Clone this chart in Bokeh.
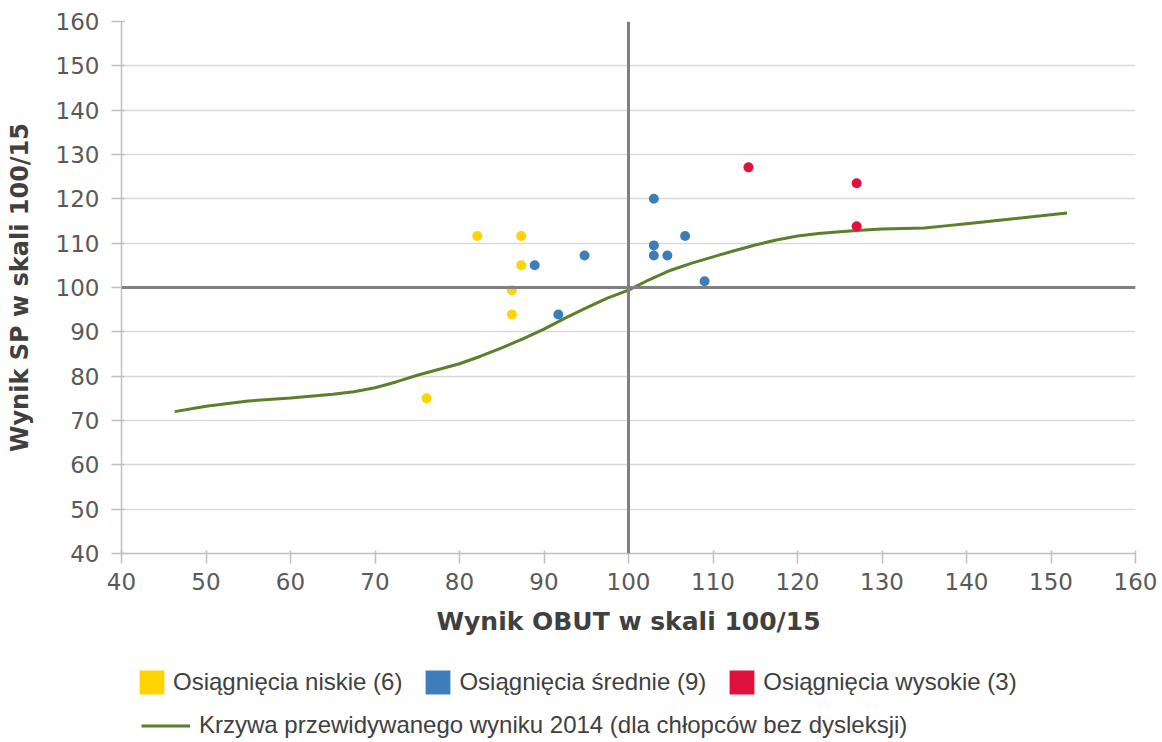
from bokeh.plotting import figure
from bokeh.models import Range1d, Span, Legend, LegendItem, FixedTicker
from bokeh.layouts import column
from bokeh.embed import file_html
from bokeh.resources import INLINE

# ---- data ----
low_x = [82.1, 87.3, 87.3, 86.2, 86.2, 76.1]
low_y = [111.6, 111.6, 105.0, 99.4, 93.9, 75.0]

mid_x = [88.9, 91.7, 94.8, 103.0, 103.0, 103.0, 104.6, 106.7, 109.0]
mid_y = [105.0, 93.9, 107.2, 120.0, 109.5, 107.2, 107.2, 111.6, 101.4]

high_x = [114.2, 127.0, 127.0]
high_y = [127.1, 123.5, 113.8]

curve_x = [46.3, 50, 55, 60, 65, 67.5, 70, 72.5, 75, 77.5, 80, 82.5, 85, 87.5,
           90, 92.5, 95, 97.5, 100, 102.5, 105, 107.5, 110, 112.5, 115, 117.5,
           120, 122.5, 125, 127.5, 130, 132.5, 135, 137.5, 140, 145, 151.9]
curve_y = [72.0, 73.2, 74.4, 75.1, 75.9, 76.5, 77.4, 78.7, 80.2, 81.5, 82.8, 84.5,
           86.4, 88.4, 90.6, 93.1, 95.4, 97.6, 99.4, 101.8, 103.9, 105.5, 106.9,
           108.3, 109.6, 110.7, 111.6, 112.2, 112.6, 112.9, 113.2, 113.3, 113.4,
           113.9, 114.4, 115.4, 116.8]

ticks = [40, 50, 60, 70, 80, 90, 100, 110, 120, 130, 140, 150, 160]

labels = ["Osiągnięcia niskie (6)", "Osiągnięcia średnie (9)", "Osiągnięcia wysokie (3)"]
curve_label = "Krzywa przewidywanego wyniku 2014 (dla chłopców bez dysleksji)"
x_title = "Wynik OBUT w skali 100/15"
y_title = "Wynik SP w skali 100/15"

YELLOW = "#FFD400"
BLUE = "#3D7EBA"
RED = "#E0123D"
GREEN = "#5B7F2A"

p = figure(width=1162, height=645,
           min_border_left=121, min_border_right=27,
           min_border_top=21, min_border_bottom=92,
           x_range=Range1d(40, 160), y_range=Range1d(40, 160),
           output_backend="svg", toolbar_location=None)
p.outline_line_color = None
p.background_fill_color = "white"
p.border_fill_color = "white"

# grid
p.xgrid.visible = False
p.ygrid.grid_line_color = "#D9D9D9"
p.ygrid.grid_line_width = 1.5
p.ygrid.ticker = FixedTicker(ticks=ticks)

for ax in (p.xaxis[0], p.yaxis[0]):
    ax.ticker = FixedTicker(ticks=ticks)
    ax.axis_line_color = "#BFBFBF"
    ax.axis_line_width = 1.5
    ax.major_tick_line_color = "#BFBFBF"
    ax.major_tick_line_width = 1.5
    ax.major_tick_in = 3
    ax.major_tick_out = 10
    ax.minor_tick_line_color = None
    ax.major_label_text_font = "DejaVu Sans"
    ax.major_label_text_font_size = "23px"
    ax.major_label_text_color = "#595959"
    ax.axis_label_text_font = "DejaVu Sans"
    ax.axis_label_text_font_style = "bold"
    ax.axis_label_text_color = "#404040"

p.xaxis.axis_label = x_title
p.yaxis.axis_label = y_title
p.xaxis.major_label_standoff = 9
p.yaxis.major_label_standoff = 12
p.xaxis.axis_label_text_font_size = "25px"
p.yaxis.axis_label_text_font_size = "24px"
p.xaxis.axis_label_standoff = 14
p.yaxis.axis_label_standoff = 19

# centre lines
p.add_layout(Span(location=100, dimension="height", line_color="#808080", line_width=3))
p.add_layout(Span(location=100, dimension="width", line_color="#808080", line_width=3))

# curve
p.line(curve_x, curve_y, line_color=GREEN, line_width=3)

# points
p.scatter(low_x, low_y, size=10, fill_color=YELLOW, line_color=None)
p.scatter(mid_x, mid_y, size=10, fill_color=BLUE, line_color=None)
p.scatter(high_x, high_y, size=10, fill_color=RED, line_color=None)

# ---- legend strip (second figure, legends only) ----
q = figure(width=1162, height=97, x_range=Range1d(0, 1), y_range=Range1d(0, 1),
           x_axis_location=None, y_axis_location=None,
           min_border=0, output_backend="svg", toolbar_location=None)
q.outline_line_color = None
q.xgrid.visible = False
q.ygrid.visible = False

# legend proxies (series data lies outside this strip's ranges, so only legend glyphs show)
sq = []
for xs, ys, c in ((low_x, low_y, YELLOW), (mid_x, mid_y, BLUE), (high_x, high_y, RED)):
    sq.append(q.rect(x=xs, y=ys, width=0, height=0, fill_color=c, line_color=None))
ln = q.line(curve_x, curve_y, line_color=GREEN, line_width=3)

leg1 = Legend(items=[LegendItem(label=l, renderers=[r]) for l, r in zip(labels, sq)],
              orientation="horizontal", location=(15, 45),
              glyph_width=31, glyph_height=30, label_standoff=6, spacing=20,
              padding=5, margin=0,
              label_text_font="Liberation Sans", label_text_font_size="24px",
              label_text_color="#404040",
              border_line_color=None, background_fill_alpha=0)
leg2 = Legend(items=[LegendItem(label=curve_label, renderers=[ln])],
              orientation="horizontal", location=(20, 3),
              glyph_width=49, glyph_height=27, label_standoff=9,
              padding=0, margin=0,
              label_text_font="Liberation Sans", label_text_font_size="24px",
              label_text_color="#404040",
              border_line_color=None, background_fill_alpha=0)
q.add_layout(leg1, "center")
q.add_layout(leg2, "center")

layout = column(p, q, spacing=0)
open("out.html", "w").write(file_html(layout, INLINE))
